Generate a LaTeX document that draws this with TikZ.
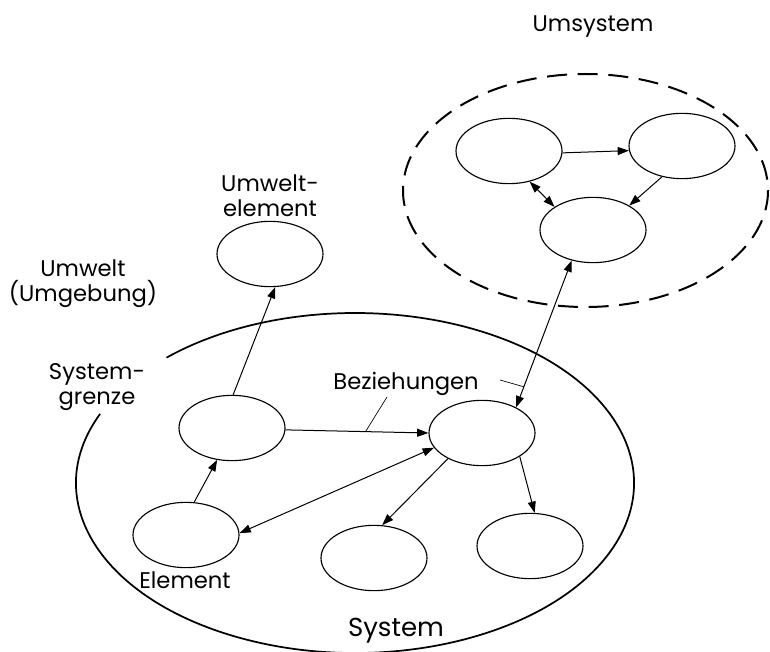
\documentclass[tikz,border=0pt]{standalone}
\usepackage{fontspec}
\setmainfont{Poppins}
\usetikzlibrary{arrows.meta,shapes.geometric}
\begin{document}
\begin{tikzpicture}[x=0.75pt,y=-0.75pt,
  elem/.style={ellipse,draw,line width=0.85pt,minimum width=79.5pt,minimum height=49pt,inner sep=0pt},
  rel/.style={line width=0.75pt,-{Triangle[length=8.5pt,width=6pt]}},
  birel/.style={line width=0.75pt,{Triangle[length=8.5pt,width=6pt]}-{Triangle[length=8.5pt,width=6pt]}},
  lbl/.style={font=\fontsize{17}{19}\selectfont,align=center,inner sep=0pt},
  leader/.style={line width=0.5pt},
  ]
\useasboundingbox (0,0) rectangle (770,652);

% system boundary, open at the upper left
\coordinate (sysc) at (355,483);
\draw[line width=1.3pt] (sysc) ++(-156:279 and 170)
  arc[start angle=-156,end angle=-492.5,x radius=279,y radius=170];

% surrounding system
\coordinate (umc) at (585.5,190.5);
\draw[line width=1.5pt,dash pattern=on 15pt off 8pt] (umc) ellipse[x radius=182.5,y radius=116.5];

% elements
\node[elem] (ue) at (270,254) {};
\node[elem] (a) at (232,428) {};
\node[elem] (b) at (186,535) {};
\node[elem] (c) at (374,558) {};
\node[elem] (d) at (530,546) {};
\node[elem] (e) at (482,433) {};
\node[elem] (f) at (509,151) {};
\node[elem] (g) at (682,146) {};
\node[elem] (h) at (593,230) {};

% relations
\draw[rel] (a.88) -- (ue.279);
\draw[rel] (a.-2) -- coordinate[pos=0.56] (t1) (e.180);
\draw[rel] (b.76) -- (a.245);
\draw[birel] (b.2) -- (e.197);
\draw[rel] (e.217) -- (c.76);
\draw[rel] (e.-32) -- (d.82);
\draw[birel] (e.37) -- coordinate[pos=0.14] (t2) (h.235);
\draw[rel] (f.-2) -- (g.185);
\draw[rel] (g.237) -- (h.34);
\draw[birel] (f.-56) -- (h.149);

% labels
\node[lbl,anchor=base] (umsys) at (593,32) {Umsystem};
\node[lbl] (uel) at (270,196) {Umwelt-\\element};
\node[lbl] (uw) at (83,284) {Umwelt\\(Umgebung)};
\node[lbl] (sg) at (97,387) {System-\\grenze};
\node[lbl,anchor=base] (el) at (185,588) {Element};
\node[lbl,anchor=base,font=\fontsize{19.5}{23}\selectfont] (sys) at (396,636) {System};
\node[lbl,anchor=base] (bz) at (406,389) {Beziehungen};

% pointers from the label to two relations
\coordinate (l1) at (387,397);
\coordinate (l2) at (500,380);
\draw[leader] (l1) -- (t1);
\draw[leader] (l2) -- (t2);
\end{tikzpicture}
\end{document}
